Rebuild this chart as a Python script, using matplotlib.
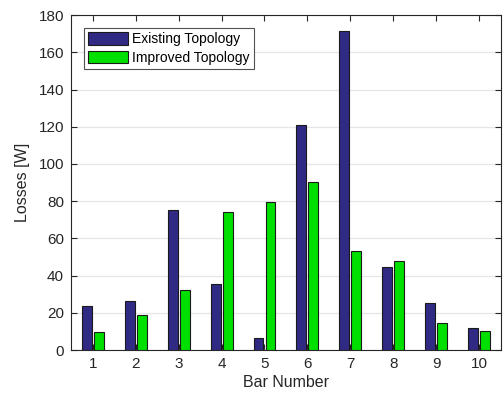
import matplotlib
matplotlib.use('Agg')
import matplotlib.pyplot as plt
import numpy as np

plt.rcParams['font.family'] = ['Liberation Sans', 'DejaVu Sans']

# losses per bar
bar_numbers = [1, 2, 3, 4, 5, 6, 7, 8, 9, 10]
existing = [23.6, 26.5, 75.2, 35.5, 6.6, 120.9, 171.4, 44.8, 25.1, 11.6]
improved = [9.5, 18.8, 32.1, 74.0, 79.7, 90.1, 53.2, 48.0, 14.3, 10.0]
yticks = [0, 20, 40, 60, 80, 100, 120, 140, 160, 180]

fig = plt.figure(figsize=(5.03, 3.98), dpi=100)
ax = fig.add_axes([0.141, 0.1206, 0.855, 0.8414])

x = np.array(bar_numbers)
w = 0.23
ax.bar(x - 0.14, existing, w, color='#312a84', edgecolor='#1a1a1a', linewidth=0.8,
       label='Existing Topology', zorder=3)
ax.bar(x + 0.14, improved, w, color='#00e000', edgecolor='#1a1a1a', linewidth=0.8,
       label='Improved Topology', zorder=3)

ax.set_xlim(0.49, 10.51)
ax.set_ylim(0, 180)
ax.set_xticks(bar_numbers)
ax.set_yticks(yticks)
ax.yaxis.grid(True, color='#e6e6e6', linewidth=0.9, zorder=0)
ax.set_axisbelow(True)
ax.tick_params(direction='in', top=True, right=True, length=4, width=0.8,
               labelsize=11, colors='#262626', pad=5)
for s in ax.spines.values():
    s.set_color('#262626')
    s.set_linewidth(0.8)

ax.set_xlabel('Bar Number', fontsize=11.5, color='#262626', labelpad=3)
ax.set_ylabel('Losses [W]', fontsize=11.5, color='#262626', labelpad=6)

leg = ax.legend(loc='upper left', bbox_to_anchor=(0.03, 0.961), fontsize=10,
                frameon=True, fancybox=False, edgecolor='#262626',
                handlelength=2.9, handleheight=1.0, handletextpad=0.3,
                borderpad=0.3, labelspacing=0.3, borderaxespad=0)
leg.get_frame().set_linewidth(0.8)

fig.savefig('out.png', dpi=100)
